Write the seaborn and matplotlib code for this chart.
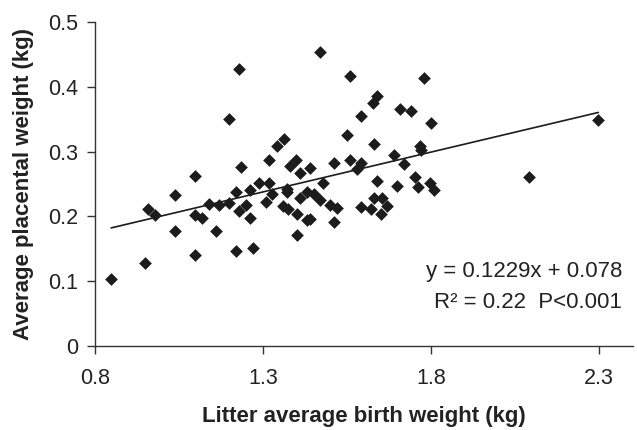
import matplotlib
matplotlib.use("Agg")
import matplotlib.pyplot as plt
import seaborn as sns
import numpy as np
import pandas as pd

# Litter average birth weight (kg)
birth_weight = [
    0.848, 0.949, 0.959, 0.979, 1.038, 1.039, 1.099, 1.099, 1.118, 1.099,
    1.139, 1.159, 1.169, 1.199, 1.199, 1.219, 1.219, 1.229, 1.236, 1.229,
    1.249, 1.260, 1.260, 1.269, 1.289, 1.319, 1.319, 1.327, 1.310, 1.342,
    1.363, 1.380, 1.398, 1.410, 1.440, 1.510, 1.470, 1.370, 1.370, 1.360,
    1.374, 1.400, 1.409, 1.431, 1.453, 1.470, 1.479, 1.431, 1.441, 1.400,
    1.499, 1.519, 1.510, 1.549, 1.560, 1.559, 1.591, 1.579, 1.591, 1.628,
    1.640, 1.630, 1.690, 1.720, 1.709, 1.740, 1.768, 1.770, 1.780, 1.800,
    1.640, 1.700, 1.751, 1.760, 1.798, 1.810, 1.591, 1.621, 1.630, 1.653,
    1.670, 1.650, 2.091, 2.298,
]
# Average placental weight (kg)
placental_weight = [
    0.104, 0.128, 0.211, 0.202, 0.233, 0.178, 0.262, 0.202, 0.198, 0.140,
    0.219, 0.178, 0.217, 0.221, 0.350, 0.238, 0.147, 0.427, 0.277, 0.209,
    0.218, 0.240, 0.198, 0.151, 0.252, 0.287, 0.251, 0.235, 0.222, 0.308,
    0.319, 0.278, 0.287, 0.267, 0.274, 0.282, 0.453, 0.243, 0.237, 0.216,
    0.211, 0.203, 0.229, 0.237, 0.234, 0.226, 0.252, 0.194, 0.196, 0.172,
    0.217, 0.213, 0.191, 0.325, 0.416, 0.287, 0.282, 0.273, 0.355, 0.375,
    0.386, 0.312, 0.295, 0.281, 0.366, 0.362, 0.308, 0.302, 0.414, 0.344,
    0.255, 0.247, 0.261, 0.245, 0.252, 0.241, 0.215, 0.211, 0.229, 0.229,
    0.216, 0.204, 0.261, 0.348,
]

fit_slope = 0.1229
fit_intercept = 0.078
equation_text = "y = 0.1229x + 0.078"
stats_text = "R\u00b2 = 0.22  P<0.001"

x_ticks = [0.8, 1.3, 1.8, 2.3]
x_tick_labels = ["0.8", "1.3", "1.8", "2.3"]
y_ticks = [0, 0.1, 0.2, 0.3, 0.4, 0.5]
y_tick_labels = ["0", "0.1", "0.2", "0.3", "0.4", "0.5"]

df = pd.DataFrame({"bw": birth_weight, "pw": placental_weight})

sns.set_theme(style="white")
plt.rcParams["font.family"] = ["Liberation Sans", "DejaVu Sans"]

fig = plt.figure(figsize=(6.37, 4.30), dpi=100)
ax = fig.add_axes([95 / 637, (430 - 346) / 430, 537.6 / 637, 324 / 430])

sns.scatterplot(data=df, x="bw", y="pw", marker="D", s=42, color="#1c1c1c",
                linewidth=0, ax=ax, zorder=3)

xl = np.array([min(birth_weight), max(birth_weight)])
ax.plot(xl, fit_slope * xl + fit_intercept, color="#1c1c1c", lw=1.2, zorder=2)

ax.set_xlim(0.8, 2.4)
ax.set_ylim(0, 0.5)
ax.set_xticks(x_ticks)
ax.set_xticklabels(x_tick_labels)
ax.set_yticks(y_ticks)
ax.set_yticklabels(y_tick_labels)

for s in ["top", "right"]:
    ax.spines[s].set_visible(False)
for s in ["left", "bottom"]:
    ax.spines[s].set_color("#333333")
    ax.spines[s].set_linewidth(1.0)

ax.tick_params(axis="both", which="both", direction="out", length=6, width=1.0,
               color="#333333", labelsize=15.5, labelcolor="#222222", pad=6,
               bottom=True, left=True)
ax.tick_params(axis="x", pad=10)

ax.set_xlabel("Litter average birth weight (kg)", fontsize=16, fontweight="bold",
              color="#222222", labelpad=12)
ax.set_ylabel("Average placental weight (kg)", fontsize=16, fontweight="bold",
              color="#222222", labelpad=10)

fig.text(622 / 637, (430 - 277) / 430, equation_text, ha="right", va="baseline",
         fontsize=16, color="#222222")
fig.text(622 / 637, (430 - 308) / 430, stats_text, ha="right", va="baseline",
         fontsize=16, color="#222222")

fig.savefig("out.png", dpi=100)
